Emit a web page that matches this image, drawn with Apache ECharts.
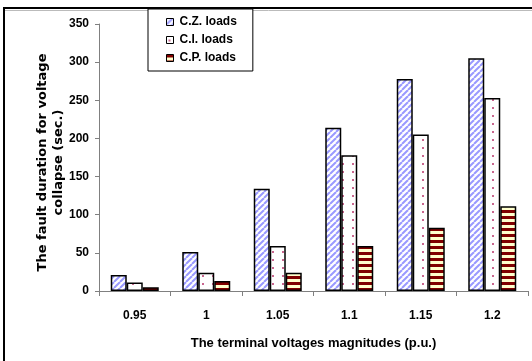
<!DOCTYPE html>
<html>
<head>
<meta charset="utf-8">
<script src="https://cdn.jsdelivr.net/npm/echarts@6/dist/echarts.min.js"></script>
<style>
html,body{margin:0;padding:0;background:#fff;}
#c{width:532px;height:361px;}
</style>
</head>
<body>
<div id="c"></div>
<script>
var categories = ['0.95', '1', '1.05', '1.1', '1.15', '1.2'];
var czLoads = [21, 51, 134, 214, 278, 305];
var ciLoads = [11, 24, 59, 178, 205, 253];
var cpLoads = [5, 13, 24, 59, 83, 111];
var seriesNames = ['C.Z. loads', 'C.I. loads', 'C.P. loads'];
var yTicks = {min: 0, max: 350, interval: 50};

function makeCanvas(w, h, draw) {
  var c = document.createElement('canvas');
  c.width = w; c.height = h;
  var ctx = c.getContext('2d');
  draw(ctx, w, h);
  return c;
}
var czPat = makeCanvas(6, 6, function (ctx, w, h) {
  ctx.fillStyle = '#ffffff'; ctx.fillRect(0, 0, w, h);
  ctx.strokeStyle = '#9999ff'; ctx.lineWidth = 2;
  for (var k = -2; k <= 2; k++) {
    ctx.beginPath();
    ctx.moveTo(k * w, h);
    ctx.lineTo(k * w + w, 0);
    ctx.stroke();
  }
});
var ciPat = makeCanvas(10, 8, function (ctx, w, h) {
  ctx.fillStyle = '#ffffff'; ctx.fillRect(0, 0, w, h);
  ctx.fillStyle = '#b8336a';
  ctx.beginPath(); ctx.arc(3, 4, 1, 0, Math.PI * 2); ctx.fill();
});
var cpPat = makeCanvas(6, 6, function (ctx, w, h) {
  ctx.fillStyle = '#ffffcc'; ctx.fillRect(0, 0, w, h);
  ctx.fillStyle = '#800000'; ctx.fillRect(0, 0, w, 3);
});

var font = "'Liberation Sans', Arial, sans-serif";
var chart = echarts.init(document.getElementById('c'), null, {renderer: 'canvas'});

function barSeries(name, data, pat) {
  return {
    name: name,
    type: 'bar',
    data: data,
    barWidth: 16,
    barGap: '0%',
    itemStyle: {
      color: {image: pat, repeat: 'repeat'},
      borderColor: '#000',
      borderWidth: 1.5
    }
  };
}

chart.setOption({
  animation: false,
  backgroundColor: '#fff',
  graphic: [
    {type: 'rect', shape: {x: 4, y: 8, width: 600, height: 400},
     style: {fill: null, stroke: '#000', lineWidth: 2}, silent: true},
    {type: 'line', shape: {x1: 5, y1: 10.5, x2: 532, y2: 10.5},
     style: {stroke: '#bbbbbb', lineWidth: 1}, silent: true}
  ],
  grid: {left: 99, right: 4, top: 24, bottom: 70, containLabel: false},
  legend: {
    orient: 'vertical',
    left: 148, top: 9,
    padding: [7, 16, 7, 18],
    icon: 'rect',
    itemWidth: 7, itemHeight: 7, itemGap: 6,
    borderColor: '#000', borderWidth: 1,
    backgroundColor: '#fff',
    data: seriesNames,
    itemStyle: {borderColor: '#000', borderWidth: 1},
    textStyle: {fontFamily: font, fontSize: 12, fontWeight: 'bold', color: '#000', padding: [0, 0, 0, 1]}
  },
  xAxis: {
    type: 'category',
    data: categories,
    name: 'The terminal voltages magnitudes (p.u.)',
    nameLocation: 'middle',
    nameGap: 46,
    nameMoveOverlap: false,
    nameTextStyle: {fontFamily: font, fontSize: 13, fontWeight: 'bold', color: '#000'},
    axisLine: {lineStyle: {color: '#808080', width: 1}},
    axisTick: {show: true, length: 5, lineStyle: {color: '#808080'}},
    axisLabel: {fontFamily: font, fontSize: 12, fontWeight: 'bold', color: '#000', margin: 19}
  },
  yAxis: {
    type: 'value',
    min: yTicks.min, max: yTicks.max, interval: yTicks.interval,
    name: 'The fault duration for voltage\ncollapse (sec.)',
    nameLocation: 'middle',
    nameRotate: 90,
    nameGap: 32,
    nameMoveOverlap: false,
    nameTextStyle: {fontFamily: "'DejaVu Sans', sans-serif", fontSize: 13, fontWeight: 'bold', color: '#000', lineHeight: 16, padding: [0, 10, 0, 0]},
    axisLine: {show: true, lineStyle: {color: '#808080', width: 1}},
    axisTick: {show: true, length: 4, lineStyle: {color: '#808080'}},
    splitLine: {show: false},
    axisLabel: {fontFamily: font, fontSize: 12, fontWeight: 'bold', color: '#000', margin: 10}
  },
  series: [
    barSeries(seriesNames[0], czLoads, czPat),
    barSeries(seriesNames[1], ciLoads, ciPat),
    barSeries(seriesNames[2], cpLoads, cpPat)
  ]
});
</script>
</body>
</html>
